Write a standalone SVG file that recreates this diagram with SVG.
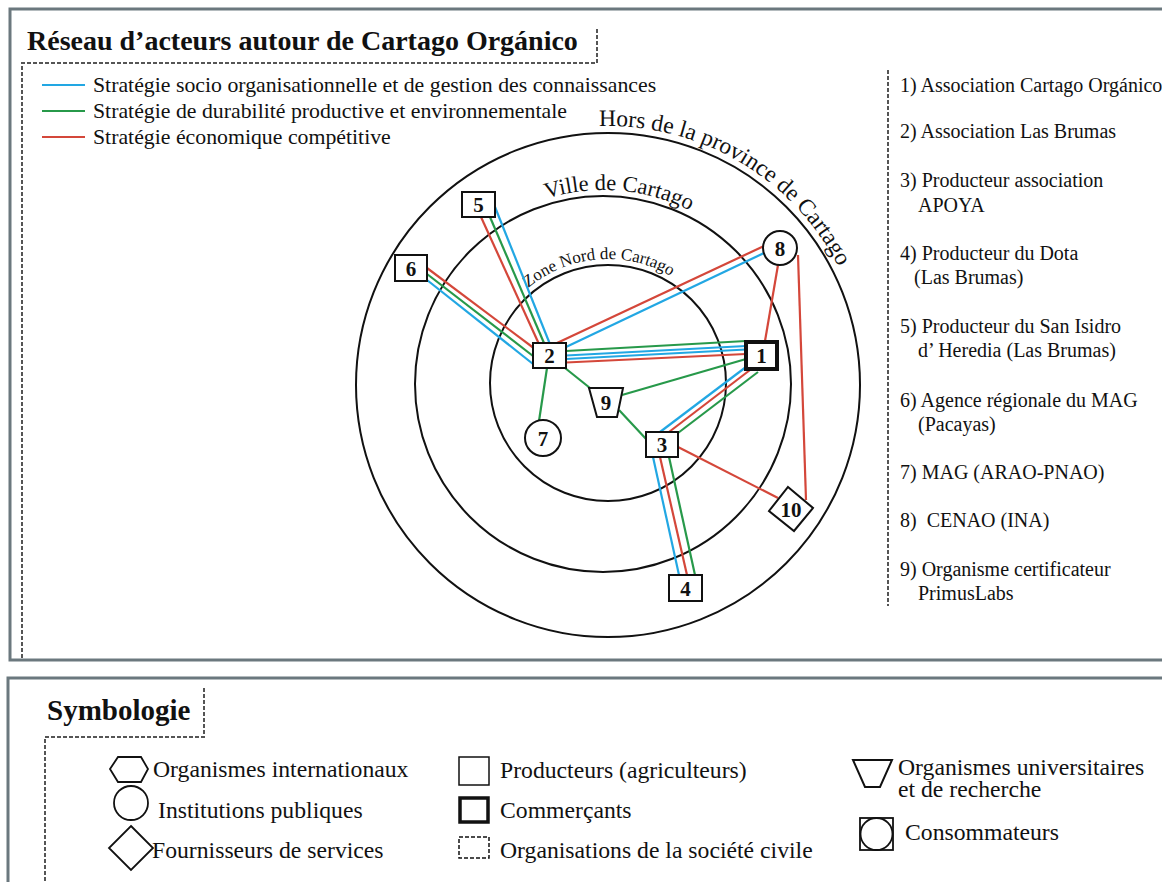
<svg xmlns="http://www.w3.org/2000/svg" width="1162" height="882" viewBox="0 0 1162 882">
<style>
text{font-family:"Liberation Serif","Times New Roman",serif;fill:#111}
.panel{fill:#fff;stroke:#6b787e;stroke-width:3}
.dash{fill:none;stroke:#555;stroke-width:2;stroke-dasharray:4 2}
.ring{fill:none;stroke:#111;stroke-width:2}
.node{fill:#fff;stroke:#111;stroke-width:2}
.thick{fill:#fff;stroke:#111;stroke-width:4}
.lbl{font-weight:bold;font-size:21px;text-anchor:middle}
.b{stroke:#22a7e3;stroke-width:2.2;fill:none}
.g{stroke:#27994a;stroke-width:2.2;fill:none}
.r{stroke:#d4473a;stroke-width:2.2;fill:none}
.leg{font-size:21.8px}
.lst{font-size:20px}
.sym{font-size:23.7px}
</style>
<rect x="0" y="0" width="1162" height="882" fill="#fff"/>
<!-- panels -->
<rect class="panel" x="10" y="9" width="1160" height="651"/>
<rect class="panel" x="8" y="678" width="1162" height="220"/>
<!-- title -->
<g id="title">
<text x="27" y="50" font-size="28" font-weight="bold">Réseau d’acteurs autour de Cartago Orgánico</text>
<path class="dash" d="M597,29 V63 H22 V660"/>
</g>
<!-- strategy legend -->
<g id="strategy-legend">
<line class="b" x1="42" y1="85" x2="85" y2="85"/>
<line class="g" x1="42" y1="111" x2="85" y2="111"/>
<line class="r" x1="42" y1="137" x2="85" y2="137"/>
<text class="leg" x="93" y="92">Stratégie socio organisationnelle et de gestion des connaissances</text>
<text class="leg" x="93" y="118">Stratégie de durabilité productive et environnementale</text>
<text class="leg" x="93" y="144">Stratégie économique compétitive</text>
</g>
<!-- rings -->
<g id="rings">
<circle class="ring" cx="608" cy="385" r="252"/>
<circle class="ring" cx="603" cy="384" r="188"/>
<circle class="ring" cx="608" cy="383" r="118"/>
<defs>
<path id="arcOuter" d="M599,126.2 A259,259 0 0 1 863.1,340"/>
<path id="arcMid" d="M546.3,198.5 A194,194 0 0 1 751.6,259.3"/>
<path id="arcIn" d="M528.3,288 A124,124 0 0 1 703,303.3"/>
</defs>
<text font-size="23.5"><textPath href="#arcOuter">Hors de la province de Cartago</textPath></text>
<text font-size="22.5"><textPath href="#arcMid">Ville de Cartago</textPath></text>
<text font-size="17"><textPath href="#arcIn">Zone Nord de Cartago</textPath></text>
</g>
<!-- connectors -->
<g id="connectors">
<line class="r" x1="481" y1="217" x2="538.5" y2="343"/>
<line class="g" x1="490" y1="217" x2="544" y2="343"/>
<line class="b" x1="495" y1="207" x2="549.5" y2="343"/>
<line class="r" x1="427" y1="268" x2="535" y2="349"/>
<line class="g" x1="427" y1="274" x2="533" y2="356"/>
<line class="b" x1="427" y1="280" x2="533" y2="364"/>
<line class="r" x1="557" y1="343" x2="764" y2="246"/>
<line class="b" x1="566" y1="347" x2="764" y2="253"/>
<line class="g" x1="566" y1="351" x2="746" y2="341"/>
<line class="b" x1="566" y1="355.5" x2="746" y2="346"/>
<line class="b" x1="566" y1="359" x2="746" y2="349.5"/>
<line class="r" x1="566" y1="362.5" x2="746" y2="354"/>
<line class="r" x1="765" y1="341" x2="778" y2="265"/>
<line class="r" x1="798" y1="255" x2="806" y2="500"/>
<line class="g" x1="746" y1="359" x2="622" y2="395"/>
<line class="g" x1="565" y1="368" x2="590" y2="388"/>
<line class="g" x1="547" y1="368" x2="539" y2="421"/>
<line class="g" x1="619" y1="410" x2="647" y2="440"/>
<line class="b" x1="746" y1="367" x2="660" y2="432"/>
<line class="r" x1="750" y1="370" x2="669" y2="432"/>
<line class="g" x1="758" y1="372" x2="678" y2="433"/>
<line class="r" x1="678" y1="447" x2="778" y2="498"/>
<line class="b" x1="653" y1="457" x2="679" y2="575"/>
<line class="r" x1="660" y1="457" x2="687" y2="575"/>
<line class="g" x1="669" y1="457" x2="695" y2="575"/>
</g>
<!-- nodes -->
<g id="node1"><rect class="thick" x="746" y="342" width="31" height="27"/><text class="lbl" x="761.5" y="363">1</text></g>
<g id="node2"><rect class="node" x="533" y="343" width="33" height="25"/><text class="lbl" x="549.5" y="363">2</text></g>
<g id="node3"><rect class="node" x="646" y="432" width="32" height="25"/><text class="lbl" x="662" y="452">3</text></g>
<g id="node4"><rect class="node" x="669" y="575" width="33" height="26"/><text class="lbl" x="685.5" y="595.5">4</text></g>
<g id="node5"><rect class="node" x="462" y="192" width="33" height="25"/><text class="lbl" x="478.5" y="212">5</text></g>
<g id="node6"><rect class="node" x="395" y="255" width="32" height="26"/><text class="lbl" x="411" y="275.5">6</text></g>
<g id="node7"><circle class="node" cx="543" cy="438" r="18"/><text class="lbl" x="543" y="445.5">7</text></g>
<g id="node8"><circle class="node" cx="780" cy="248" r="17"/><text class="lbl" x="780" y="255.5">8</text></g>
<g id="node9"><polygon class="node" points="589,388 623,388 617,417 597,417"/><text class="lbl" x="606" y="409.5">9</text></g>
<g id="node10"><polygon class="node" points="788,487 813,508 794,531 769,511"/><text class="lbl" x="791" y="516.5">10</text></g>
<!-- actor list -->
<g id="actor-list">
<path class="dash" d="M888,70 V606"/>
<text class="lst" x="900" y="92">1) Association Cartago Orgánico</text>
<text class="lst" x="900" y="138">2) Association Las Brumas</text>
<text class="lst" x="900" y="187">3) Producteur association</text>
<text class="lst" x="918" y="212">APOYA</text>
<text class="lst" x="900" y="260">4) Producteur du Dota</text>
<text class="lst" x="914" y="284">(Las Brumas)</text>
<text class="lst" x="900" y="333">5) Producteur du San Isidro</text>
<text class="lst" x="918" y="357">d’ Heredia (Las Brumas)</text>
<text class="lst" x="900" y="407">6) Agence régionale du MAG</text>
<text class="lst" x="918" y="431">(Pacayas)</text>
<text class="lst" x="900" y="479">7) MAG (ARAO-PNAO)</text>
<text class="lst" x="900" y="527">8)&#160; CENAO (INA)</text>
<text class="lst" x="900" y="576">9) Organisme certificateur</text>
<text class="lst" x="918" y="600">PrimusLabs</text>
</g>
<!-- symbology -->
<g id="symbology">
<text x="47" y="720" font-size="29" font-weight="bold">Symbologie</text>
<path class="dash" d="M204,688 V737 H45 V882"/>
<polygon class="node" points="110,769 118,757 141,757 148,769 141,782 118,782" style="stroke-width:1.8"/>
<text class="sym" x="153" y="777">Organismes internationaux</text>
<circle class="node" cx="131" cy="803" r="17" style="stroke-width:1.8"/>
<text class="sym" x="158" y="818">Institutions publiques</text>
<polygon class="node" points="131,826 153,848 131,870 109,848" style="stroke-width:1.8"/>
<text class="sym" x="152" y="858">Fournisseurs de services</text>
<rect class="node" x="459" y="757" width="30" height="28" style="stroke-width:1.5"/>
<text class="sym" x="500" y="778">Producteurs (agriculteurs)</text>
<rect class="node" x="460" y="798" width="28" height="24" style="stroke-width:3.5"/>
<text class="sym" x="500" y="818">Commerçants</text>
<rect class="node" x="459" y="837" width="30" height="21" style="stroke-width:1.5;stroke-dasharray:4 2"/>
<text class="sym" x="500" y="858">Organisations de la société civile</text>
<polygon class="node" points="853,760 892,760 880,787 865,787" style="stroke-width:2"/>
<text class="sym" x="898" y="775">Organismes universitaires</text>
<text class="sym" x="898" y="797">et de recherche</text>
<rect class="node" x="860" y="818" width="33" height="32" style="stroke-width:1.8"/>
<circle class="node" cx="876.5" cy="834" r="16" style="stroke-width:1.8"/>
<text class="sym" x="905" y="840">Consommateurs</text>
</g>
</svg>
